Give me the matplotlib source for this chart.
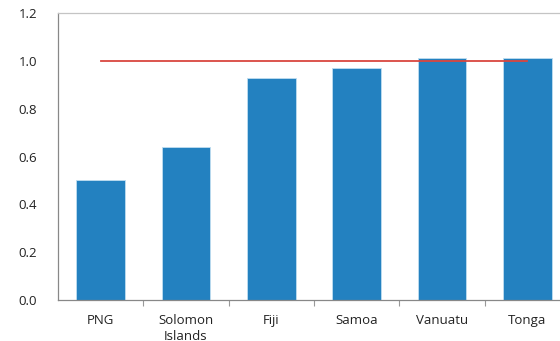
import matplotlib.pyplot as plt
from matplotlib.ticker import FixedLocator

countries = ["PNG", "Solomon\nIslands", "Fiji", "Samoa", "Vanuatu", "Tonga"]
ratio = [0.50, 0.64, 0.93, 0.97, 1.01, 1.01]
parity = 1.0

plt.rcParams['font.family'] = ['Open Sans', 'DejaVu Sans']

fig = plt.figure(figsize=(5.6, 3.41), dpi=100)
ax = fig.add_axes([0.1036, 0.1202, 0.914, 0.8416])

x = range(len(countries))
ax.bar(x, ratio, width=0.57, color='#2381C0', edgecolor='#BFDDF0', linewidth=0.6, zorder=2)
ax.plot([0, len(countries) - 1], [parity, parity], color='#D9463F', linewidth=1.3, zorder=3)

ax.set_xlim(-0.5, len(countries) - 0.5)
ax.set_ylim(0, 1.2)
ax.set_yticks([0, 0.2, 0.4, 0.6, 0.8, 1.0, 1.2])
ax.set_yticklabels(['0.0', '0.2', '0.4', '0.6', '0.8', '1.0', '1.2'])
ax.set_xticks(list(x))
ax.set_xticklabels(countries, linespacing=1.35)
ax.xaxis.set_minor_locator(FixedLocator([i + 0.5 for i in range(len(countries))]))

ax.tick_params(axis='x', which='major', length=0, pad=10, labelsize=9.5, colors='#222222')
ax.tick_params(axis='x', which='minor', length=4, width=0.8, color='#999999')
ax.tick_params(axis='y', length=0, pad=15, labelsize=9.5, colors='#222222')

for side in ['left', 'bottom']:
    ax.spines[side].set_color('#888888')
    ax.spines[side].set_linewidth(0.9)
ax.spines['top'].set_color('#C4C4C4')
ax.spines['top'].set_linewidth(0.9)
ax.spines['right'].set_visible(False)

fig.savefig('out.png', dpi=100)
